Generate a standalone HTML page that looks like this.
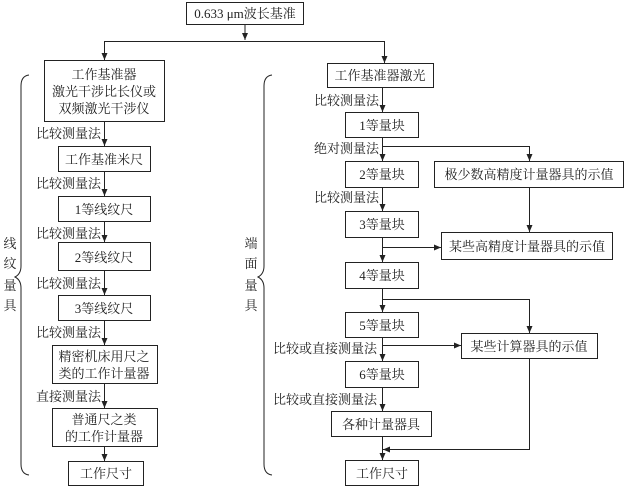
<!DOCTYPE html>
<html><head><meta charset="utf-8"><style>
body{margin:0;background:#fff}
svg{display:block}
text{font-family:"Liberation Serif","Noto Serif CJK SC",serif;font-size:13px;fill:#222}
</style></head><body>
<svg width="624" height="487" viewBox="0 0 624 487">
<defs><marker id="a" markerWidth="8" markerHeight="8" refX="7" refY="4" orient="auto" markerUnits="userSpaceOnUse"><path d="M0,1 L7,4 L0,7 z" fill="#222"/></marker></defs>
<g fill="none" stroke="#222" stroke-width="1">
<rect x="186.5" y="2.5" width="117" height="22"/>
<rect x="44.5" y="60.5" width="120" height="61"/>
<rect x="58.5" y="146.5" width="92" height="25"/>
<rect x="58.5" y="196.5" width="92" height="25"/>
<rect x="58.5" y="242.5" width="92" height="28"/>
<rect x="58.5" y="295.5" width="92" height="25"/>
<rect x="52.5" y="345.5" width="105" height="38"/>
<rect x="52.5" y="408.5" width="105" height="38"/>
<rect x="68.5" y="461.5" width="75" height="24"/>
<rect x="327.5" y="63.5" width="106" height="24"/>
<rect x="345.5" y="112.5" width="73" height="25"/>
<rect x="345.5" y="161.5" width="73" height="26"/>
<rect x="345.5" y="211.5" width="73" height="26"/>
<rect x="345.5" y="262.5" width="73" height="26"/>
<rect x="345.5" y="312.5" width="73" height="25"/>
<rect x="345.5" y="361.5" width="73" height="26"/>
<rect x="331.5" y="411.5" width="100" height="25"/>
<rect x="345.5" y="460.5" width="73" height="25"/>
<rect x="434.5" y="161.5" width="189" height="26"/>
<rect x="441.5" y="232.5" width="171" height="27"/>
<rect x="461.5" y="333.5" width="136" height="25"/>
<path d="M245,25 V40" marker-end="url(#a)"/>
<path d="M104,41.5 H384.5"/>
<path d="M104.5,41 V60" marker-end="url(#a)"/>
<path d="M384.5,41 V63" marker-end="url(#a)"/>
<path d="M104.5,122 V146" marker-end="url(#a)"/>
<path d="M104.5,172 V196" marker-end="url(#a)"/>
<path d="M104.5,222 V242" marker-end="url(#a)"/>
<path d="M104.5,271 V295" marker-end="url(#a)"/>
<path d="M104.5,321 V345" marker-end="url(#a)"/>
<path d="M104.5,384 V408" marker-end="url(#a)"/>
<path d="M104.5,447 V461" marker-end="url(#a)"/>
<path d="M382.5,88 V112" marker-end="url(#a)"/>
<path d="M382.5,138 V161" marker-end="url(#a)"/>
<path d="M382.5,146.5 H529.5 V161" marker-end="url(#a)"/>
<path d="M382.5,188 V211" marker-end="url(#a)"/>
<path d="M529.5,188 V232" marker-end="url(#a)"/>
<path d="M382.5,238 V262" marker-end="url(#a)"/>
<path d="M382.5,247.5 H441" marker-end="url(#a)"/>
<path d="M382.5,289 V312" marker-end="url(#a)"/>
<path d="M382.5,299.5 H529.5 V333" marker-end="url(#a)"/>
<path d="M382.5,338 V361" marker-end="url(#a)"/>
<path d="M382.5,345.5 H461" marker-end="url(#a)"/>
<path d="M382.5,388 V411" marker-end="url(#a)"/>
<path d="M382.5,437 V460" marker-end="url(#a)"/>
<path d="M529.5,359 V449.5 H383" marker-end="url(#a)"/>
<path d="M29,75 Q21,76 21,86 V266 Q21,274 15,277 Q21,280 21,288 V464 Q21,474 29,475"/>
<path d="M272,75 Q264,76 264,86 V266 Q264,274 258,277 Q264,280 264,288 V464 Q264,474 272,475"/>
</g>
<g text-anchor="middle">
<text x="245" y="18">0.633 μm波长基准</text>
<text x="104" y="79">工作基准器</text>
<text x="104" y="96">激光干涉比长仪或</text>
<text x="104" y="113">双频激光干涉仪</text>
<text x="104" y="164">工作基准米尺</text>
<text x="104" y="214">1等线纹尺</text>
<text x="104" y="262">2等线纹尺</text>
<text x="104" y="313">3等线纹尺</text>
<text x="104" y="361">精密机床用尺之</text>
<text x="104" y="378">类的工作计量器</text>
<text x="104" y="424">普通尺之类</text>
<text x="104" y="441">的工作计量器</text>
<text x="106" y="478">工作尺寸</text>
<text x="380" y="80">工作基准器激光</text>
<text x="382" y="130">1等量块</text>
<text x="382" y="179">2等量块</text>
<text x="382" y="229">3等量块</text>
<text x="382" y="280">4等量块</text>
<text x="382" y="330">5等量块</text>
<text x="382" y="379">6等量块</text>
<text x="381" y="429">各种计量器具</text>
<text x="382" y="478">工作尺寸</text>
<text x="529" y="179">极少数高精度计量器具的示值</text>
<text x="527" y="251">某些高精度计量器具的示值</text>
<text x="529" y="351">某些计算器具的示值</text>
</g>
<g text-anchor="end">
<text x="101" y="138">比较测量法</text>
<text x="101" y="188">比较测量法</text>
<text x="101" y="238">比较测量法</text>
<text x="101" y="288">比较测量法</text>
<text x="101" y="337">比较测量法</text>
<text x="101" y="401">直接测量法</text>
<text x="379" y="105">比较测量法</text>
<text x="379" y="153">绝对测量法</text>
<text x="379" y="202">比较测量法</text>
<text x="377" y="353">比较或直接测量法</text>
<text x="377" y="404">比较或直接测量法</text>
</g>
<g text-anchor="middle">
<text x="10" y="248">线</text>
<text x="10" y="268">纹</text>
<text x="10" y="290">量</text>
<text x="10" y="310">具</text>
<text x="251" y="248">端</text>
<text x="251" y="268">面</text>
<text x="251" y="290">量</text>
<text x="251" y="310">具</text>
</g>
</svg>
</body></html>
